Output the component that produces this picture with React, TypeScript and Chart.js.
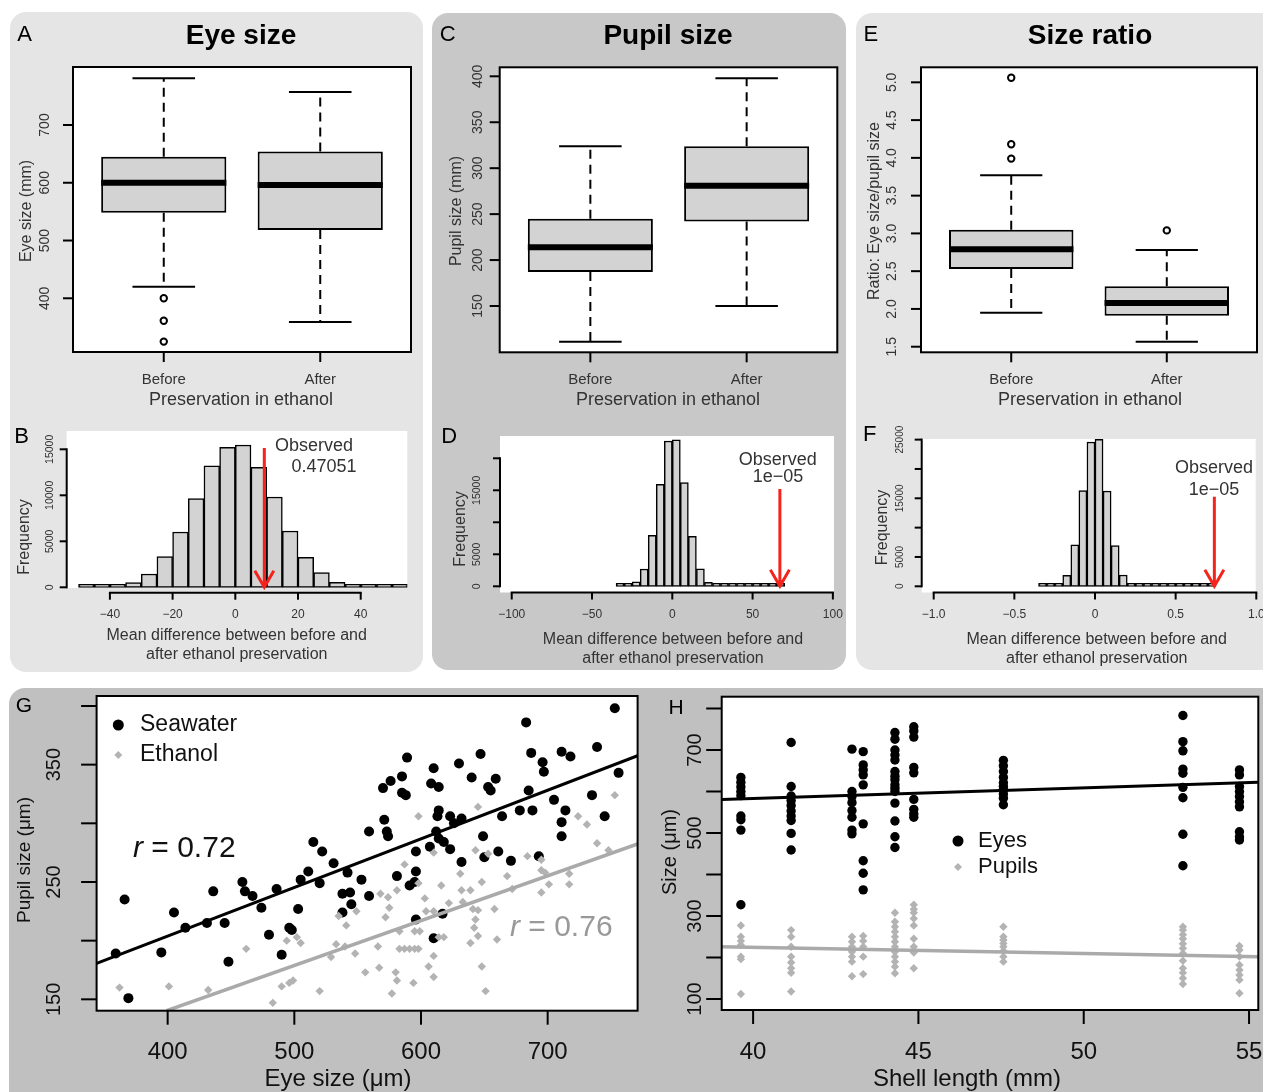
import React, { useEffect, useRef } from 'react';
import { Chart, registerables } from 'chart.js';

Chart.register(...registerables);

const PAGE_W = 1263;
const PAGE_H = 1092;
const FONT = '"Liberation Sans", Arial, Helvetica, sans-serif';
const LABEL = '#333333';
const INK = '#111111';
const BOX_FILL = '#d3d3d3';
const GREY_PT = '#b3b3b3';
const GREY_LINE = '#aaaaaa';
const GREY_TEXT = '#999999';
const ARROW_RED = '#f4231b';

// ---------------- data: boxplots ----------------
const boxGroups = ['Before', 'After'];

const eyeLow = [420, 359];
const eyeQ1 = [548, 518];
const eyeMedian = [600, 596];
const eyeQ3 = [645, 654];
const eyeHigh = [781, 757];
const eyeOutliers = [[400, 361, 325], []];
const eyeTicks = [400, 500, 600, 700];

const pupilLow = [111, 150];
const pupilQ1 = [187, 242];
const pupilMedian = [214, 281];
const pupilQ3 = [245, 324];
const pupilHigh = [324, 398];
const pupilOutliers: number[][] = [[], []];
const pupilTicks = [150, 200, 250, 300, 350, 400];

const ratioLow = [1.95, 1.565];
const ratioQ1 = [2.53, 1.91];
const ratioMedian = [2.79, 2.08];
const ratioQ3 = [3.05, 2.3];
const ratioHigh = [3.77, 2.78];
const ratioOutliers = [[5.06, 4.18, 3.99], [3.04]];
const ratioTicks = [1.5, 2.0, 2.5, 3.0, 3.5, 4.0, 4.5, 5.0];

// ---------------- data: permutation histograms ----------------
const eyeDiffBins = [-47.5, -42.5, -37.5, -32.5, -27.5, -22.5, -17.5, -12.5, -7.5, -2.5, 2.5, 7.5, 12.5, 17.5, 22.5, 27.5, 32.5, 37.5, 42.5, 47.5, 52.5];
const eyeDiffCounts = [70, 150, 250, 500, 1450, 3330, 6010, 9640, 13190, 15220, 15470, 13040, 9820, 6120, 3260, 1590, 540, 220, 110, 60, 30];
const eyeDiffTicksX = [-40, -20, 0, 20, 40];
const eyeDiffLabelsX = ['\u221240', '\u221220', '0', '20', '40'];
const eyeDiffTicksY = [0, 5000, 10000, 15000];
const eyeDiffLabelsY = ['0', '5000', '10000', '15000'];
const eyeObserved = 9.25;
const eyeArrowTop = 15150;

const pupilDiffBins = [-32.5, -27.5, -22.5, -17.5, -12.5, -7.5, -2.5, 2.5, 7.5, 12.5, 17.5, 22.5, 27.5, 32.5, 37.5, 42.5, 47.5, 52.5, 57.5, 62.5, 67.5];
const pupilDiffCounts = [50, 150, 680, 2700, 7970, 15940, 22700, 22870, 16200, 7810, 2710, 625, 160, 50, 25, 20, 15, 12, 10, 8, 5];
const pupilDiffTicksX = [-100, -50, 0, 50, 100];
const pupilDiffLabelsX = ['\u2212100', '\u221250', '0', '50', '100'];
const pupilDiffTicksY = [0, 5000, 10000, 15000, 20000];
const pupilDiffLabelsY = ['0', '5000', null, '15000', null];
const pupilObserved = 67;
const pupilArrowTop = 15200;

const ratioDiffBins = [-0.325, -0.275, -0.225, -0.175, -0.125, -0.075, -0.025, 0.025, 0.075, 0.125, 0.175, 0.225, 0.275, 0.325, 0.375, 0.425, 0.475, 0.525, 0.575, 0.625, 0.675, 0.725];
const ratioDiffCounts = [80, 100, 400, 1870, 7050, 16310, 24600, 25060, 16250, 6930, 1930, 450, 110, 40, 30, 25, 20, 15, 12, 10, 8, 5];
const ratioDiffTicksX = [-1, -0.5, 0, 0.5, 1];
const ratioDiffLabelsX = ['\u22121.0', '\u22120.5', '0', '0.5', '1.0'];
const ratioDiffTicksY = [0, 5000, 10000, 15000, 20000, 25000];
const ratioDiffLabelsY = ['0', '5000', null, '15000', null, '25000'];
const ratioObserved = 0.74;
const ratioArrowTop = 15270;

// ---------------- data: G (eye vs pupil) ----------------
const seawaterEye = [359, 366, 369, 395, 405, 414, 431, 436, 445, 448, 459, 461, 467, 474, 480, 486, 490, 496, 498, 503, 505, 511, 515, 522, 520, 531, 538, 544, 545, 542, 538, 553, 559, 559, 571, 570, 576, 573, 574, 581, 585, 585, 588, 589, 596, 596, 591, 595, 596, 607, 610, 608, 614, 614, 613, 612, 614, 618, 623, 623, 626, 632, 632, 617, 610, 630, 640, 647, 649, 650, 653, 655, 659, 661, 664, 671, 678, 683, 685, 687, 688, 693, 696, 697, 705, 711, 718, 714, 711, 711, 735, 739, 745, 753, 756];
const seawaterPupil = [189, 235, 151, 190, 224, 211, 215, 242, 215, 182, 250, 242, 238, 228, 205, 244, 188, 211, 209, 227, 252, 259, 284, 276, 249, 266, 240, 241, 231, 258, 224, 252, 293, 238, 303, 330, 336, 293, 289, 255, 340, 326, 324, 356, 276, 259, 247, 250, 218, 280, 347, 334, 331, 311, 306, 293, 287, 284, 278, 306, 300, 304, 267, 223, 202, 351, 339, 359, 289, 271, 331, 328, 338, 276, 306, 268, 311, 386, 328, 360, 311, 272, 352, 344, 320, 361, 357, 311, 301, 289, 324, 365, 306, 398, 343];
const ethanolEye = [362, 401, 432, 462, 483, 490, 496, 499, 494, 502, 505, 520, 529, 533, 535, 541, 540, 548, 549, 556, 566, 567, 568, 574, 575, 572, 581, 580, 581, 577, 583, 587, 583, 587, 591, 595, 598, 594, 598, 598, 595, 599, 603, 604, 606, 610, 610, 610, 610, 616, 618, 614, 622, 631, 632, 633, 639, 641, 645, 643, 642, 645, 639, 645, 643, 648, 648, 651, 653, 658, 660, 668, 672, 684, 695, 695, 698, 701, 695, 717, 717, 724, 731, 739, 748, 753];
const ethanolPupil = [160, 161, 158, 193, 147, 161, 164, 166, 200, 203, 198, 157, 186, 197, 221, 213, 195, 189, 225, 173, 195, 177, 240, 237, 228, 220, 243, 173, 166, 155, 208, 265, 193, 193, 193, 193, 193, 164, 306, 249, 208, 208, 236, 225, 178, 187, 169, 275, 225, 247, 203, 203, 232, 257, 243, 233, 243, 227, 226, 218, 211, 204, 198, 314, 277, 250, 178, 157, 274, 227, 201, 255, 244, 272, 269, 260, 258, 248, 241, 257, 248, 306, 299, 283, 277, 324];
const seawaterFitX = [343.9, 771];
const seawaterFitY = [180.7, 357.6];
const ethanolFitX = [399.2, 771];
const ethanolFitY = [140.3, 282.4];
const gTicksX = [400, 500, 600, 700];
const gTicksY = [150, 200, 250, 300, 350, 400];
const gLabelsY = ['150', null, '250', null, '350', null];

// ---------------- data: H (size vs shell length) ----------------
const shellLengths = [39.63, 41.15, 42.99, 43.33, 44.29, 44.86, 47.57, 53.0, 54.71];
const eyeSizesByShell = [
  [634, 622, 611, 600, 590, 541, 532, 507, 327],
  [718, 612, 589, 578, 566, 553, 541, 530, 499, 459],
  [702, 600, 588, 573, 554, 538, 507, 498],
  [696, 664, 652, 640, 616, 522, 433, 403, 363],
  [742, 726, 700, 688, 676, 648, 637, 628, 616, 608, 600, 572, 529, 491, 465],
  [756, 746, 731, 658, 645, 581, 557, 546, 538],
  [675, 662, 648, 634, 621, 612, 604, 594, 584, 568],
  [783, 720, 698, 654, 644, 610, 585, 497, 421],
  [652, 640, 612, 600, 588, 575, 563, 503, 491, 483],
];
const pupilSizesByShell = [
  [277, 250, 240, 230, 202, 196, 112],
  [266, 250, 226, 202, 188, 174, 163, 118],
  [250, 238, 226, 214, 202, 190, 155],
  [252, 240, 226, 202, 160],
  [308, 286, 274, 262, 250, 238, 226, 214, 202, 190, 178, 162],
  [327, 316, 308, 294, 277, 245, 226, 212, 174],
  [274, 250, 242, 234, 226, 216, 202, 190],
  [274, 266, 255, 245, 233, 222, 210, 192, 174, 163, 150, 136],
  [228, 218, 202, 182, 170, 158, 146, 114],
];
const eyesFitX = [39.05, 55.28];
const eyesFitY = [581, 622];
const pupilsFitX = [39.05, 55.28];
const pupilsFitY = [226, 202];
const hTicksX = [40, 45, 50, 55];
const hTicksY = [100, 200, 300, 400, 500, 600, 700, 800];
const hLabelsY = ['100', null, '300', null, '500', null, '700', null];

// ---------------- layout (page pixels) ----------------
const panels = [
  { x: 10, y: 12, w: 413, h: 660, c: '#e5e5e5' },
  { x: 432, y: 13, w: 414, h: 657, c: '#c8c8c8' },
  { x: 856, y: 13, w: 440, h: 657, c: '#e5e5e5' },
  { x: 9, y: 688, w: 1300, h: 440, c: '#c0c0c0' },
];

// ---------------- drawing helpers ----------------
function fontStr(size: number, bold?: boolean, italic?: boolean) {
  return `${italic ? 'italic ' : ''}${bold ? 'bold ' : ''}${size}px ${FONT}`;
}

function drawText(ctx: CanvasRenderingContext2D, t: any) {
  ctx.save();
  ctx.fillStyle = t.color || '#000';
  ctx.textBaseline = 'middle';
  ctx.translate(t.x, t.y);
  if (t.rotate) ctx.rotate(-Math.PI / 2);
  if (t.parts) {
    let x = 0;
    ctx.textAlign = 'left';
    for (const p of t.parts) {
      ctx.font = fontStr(t.size, t.bold, p.italic);
      ctx.fillText(p.text, x, 0);
      x += ctx.measureText(p.text).width;
    }
  } else {
    ctx.font = fontStr(t.size, t.bold, t.italic);
    ctx.textAlign = t.align || 'center';
    ctx.fillText(t.text, 0, 0);
  }
  ctx.restore();
}

function drawAxis(chart: any, a: any) {
  const ctx: CanvasRenderingContext2D = chart.ctx;
  const ca = chart.chartArea;
  ctx.save();
  ctx.strokeStyle = '#000';
  ctx.lineWidth = a.lineWidth || 2;
  ctx.fillStyle = a.color || LABEL;
  ctx.font = fontStr(a.size);
  ctx.textAlign = 'center';
  ctx.textBaseline = 'middle';
  if (a.axis === 'x') {
    const sc = chart.scales.x;
    const y0 = ca.bottom;
    if (a.line) {
      ctx.beginPath();
      ctx.moveTo(sc.getPixelForValue(a.line[0]) - 1, y0);
      ctx.lineTo(sc.getPixelForValue(a.line[1]) + 1, y0);
      ctx.stroke();
    }
    a.at.forEach((v: number, i: number) => {
      const px = sc.getPixelForValue(v);
      ctx.beginPath();
      ctx.moveTo(px, y0);
      ctx.lineTo(px, y0 + a.tickLen);
      ctx.stroke();
      const lab = a.labels[i];
      if (lab != null) ctx.fillText(lab, px, a.labelPos);
    });
  } else {
    const sc = chart.scales.y;
    const x0 = ca.left;
    if (a.line) {
      ctx.beginPath();
      ctx.moveTo(x0, sc.getPixelForValue(a.line[0]) + 1);
      ctx.lineTo(x0, sc.getPixelForValue(a.line[1]) - 1);
      ctx.stroke();
    }
    a.at.forEach((v: number, i: number) => {
      const py = sc.getPixelForValue(v);
      ctx.beginPath();
      ctx.moveTo(x0, py);
      ctx.lineTo(x0 - a.tickLen, py);
      ctx.stroke();
      const lab = a.labels[i];
      if (lab != null) {
        ctx.save();
        ctx.translate(a.labelPos, py);
        ctx.rotate(-Math.PI / 2);
        ctx.fillText(lab, 0, 0);
        ctx.restore();
      }
    });
  }
  ctx.restore();
}

function makePlugin(spec: any) {
  return {
    id: 'rfig',
    beforeDatasetsDraw(chart: any) {
      if (!spec.plotBg) return;
      const ca = chart.chartArea;
      const ctx = chart.ctx;
      ctx.save();
      ctx.fillStyle = '#ffffff';
      ctx.fillRect(ca.left, ca.top, ca.right - ca.left, ca.bottom - ca.top - (spec.bottomPad || 0));
      ctx.restore();
    },
    afterDatasetsDraw(chart: any) {
      const ctx: CanvasRenderingContext2D = chart.ctx;
      const ca = chart.chartArea;
      if (spec.box) {
        ctx.save();
        ctx.strokeStyle = '#000';
        ctx.lineWidth = 2;
        ctx.strokeRect(ca.left, ca.top, ca.right - ca.left, ca.bottom - ca.top);
        ctx.restore();
      }
      (spec.axes || []).forEach((a: any) => drawAxis(chart, a));
      if (spec.arrow) {
        const ar = spec.arrow;
        const px = chart.scales.x.getPixelForValue(ar.x);
        const py0 = chart.scales.y.getPixelForValue(ar.y0);
        const py1 = chart.scales.y.getPixelForValue(ar.y1);
        const len = 19;
        const ang = Math.PI / 6;
        ctx.save();
        ctx.strokeStyle = ARROW_RED;
        ctx.lineWidth = 3;
        ctx.beginPath();
        ctx.moveTo(px, py0);
        ctx.lineTo(px, py1);
        ctx.moveTo(px - len * Math.sin(ang), py1 - len * Math.cos(ang));
        ctx.lineTo(px, py1);
        ctx.lineTo(px + len * Math.sin(ang), py1 - len * Math.cos(ang));
        ctx.stroke();
        ctx.restore();
      }
      if (spec.legend) {
        const lg = spec.legend;
        ctx.save();
        lg.items.forEach((it: any) => {
          ctx.fillStyle = it.color;
          ctx.beginPath();
          if (it.kind === 'circle') {
            ctx.arc(lg.symbolX, it.y, it.r, 0, Math.PI * 2);
          } else {
            ctx.moveTo(lg.symbolX, it.y - it.r);
            ctx.lineTo(lg.symbolX + it.r, it.y);
            ctx.lineTo(lg.symbolX, it.y + it.r);
            ctx.lineTo(lg.symbolX - it.r, it.y);
            ctx.closePath();
          }
          ctx.fill();
          drawText(ctx, { text: it.label, x: lg.textX, y: it.y, size: lg.size, align: 'left', color: INK });
        });
        ctx.restore();
      }
      (spec.texts || []).forEach((t: any) => drawText(ctx, t));
    },
  };
}

function baseOptions(area: number[], xr: number[], yr: number[], xStep?: number) {
  return {
    responsive: false,
    animation: false,
    events: [],
    devicePixelRatio: 1,
    layout: { padding: { left: area[0], top: area[1], right: PAGE_W - area[2], bottom: PAGE_H - area[3] } },
    plugins: { legend: { display: false }, tooltip: { enabled: false }, title: { display: false } },
    scales: {
      x: { type: 'linear', min: xr[0], max: xr[1], display: false, offset: false, ticks: xStep ? { stepSize: xStep, includeBounds: false } : {} },
      y: { type: 'linear', min: yr[0], max: yr[1], display: false },
    },
  };
}

function seg(x1: number, y1: number, x2: number, y2: number, color: string, width: number, dash?: number[]) {
  return {
    type: 'line',
    data: [{ x: x1, y: y1 }, { x: x2, y: y2 }],
    borderColor: color,
    borderWidth: width,
    borderDash: dash || [],
    borderCapStyle: 'butt',
    pointRadius: 0,
    fill: false,
    tension: 0,
  };
}

// ---------------- chart builders ----------------
function boxplotConfig(b: any, area: number[], yr: number[], spec: any) {
  const HALF_BOX = 0.4;
  const HALF_CAP = 0.2;
  const ds: any[] = [];
  boxGroups.forEach((_, i) => ds.push(seg(i + 1 - HALF_BOX, b.med[i], i + 1 + HALF_BOX, b.med[i], '#000', 6)));
  ds.push({
    type: 'line',
    showLine: false,
    data: b.out.flatMap((arr: number[], i: number) => arr.map((v) => ({ x: i + 1, y: v }))),
    pointStyle: 'circle',
    pointRadius: 3.2,
    pointBackgroundColor: '#ffffff',
    pointBorderColor: '#000',
    pointBorderWidth: 2,
  });
  boxGroups.forEach((_, i) => {
    ds.push(seg(i + 1 - HALF_CAP, b.high[i], i + 1 + HALF_CAP, b.high[i], '#000', 2));
    ds.push(seg(i + 1 - HALF_CAP, b.low[i], i + 1 + HALF_CAP, b.low[i], '#000', 2));
    ds.push(seg(i + 1, b.q3[i], i + 1, b.high[i], '#000', 2, [9, 6]));
    ds.push(seg(i + 1, b.q1[i], i + 1, b.low[i], '#000', 2, [9, 6]));
  });
  ds.push({
    type: 'bar',
    data: boxGroups.map((_, i) => ({ x: i + 1, y: [b.q1[i], b.q3[i]] })),
    backgroundColor: BOX_FILL,
    borderColor: '#000',
    borderWidth: 2,
    borderSkipped: false,
    categoryPercentage: 1,
    barPercentage: 0.8,
  });
  return { type: 'bar', data: { datasets: ds }, options: baseOptions(area, [0.42, 2.58], yr, 1), plugins: [makePlugin(spec)] };
}

function histConfig(bins: number[], counts: number[], area: number[], xr: number[], yr: number[], xStep: number, spec: any) {
  return {
    type: 'bar',
    data: {
      datasets: [
        {
          type: 'bar',
          data: bins.map((b, i) => ({ x: b, y: counts[i] })),
          backgroundColor: BOX_FILL,
          borderColor: '#000',
          borderWidth: 1.5,
          borderSkipped: false,
          categoryPercentage: 1,
          barPercentage: 1,
          minBarLength: 3,
        },
      ],
    },
    options: baseOptions(area, xr, yr, xStep),
    plugins: [makePlugin(spec)],
  };
}

function boxSpec(letter: any, title: any, yTicks: number[], yLabels: string[], yLabelX: number, yTitle: any) {
  return {
    plotBg: true,
    box: true,
    axes: [
      { axis: 'x', at: [1, 2], labels: boxGroups, tickLen: 10, labelPos: 380, size: 15, color: LABEL },
      { axis: 'y', at: yTicks, labels: yLabels, tickLen: 10, labelPos: yLabelX, size: 14, color: LABEL },
    ],
    texts: [
      { text: letter.t, x: letter.x, y: 35, size: 22 },
      { text: title.t, x: title.x, y: 36, size: 28, bold: true },
      { text: 'Preservation in ethanol', x: title.x, y: 400, size: 18, color: LABEL },
      { text: yTitle.t, x: yTitle.x, y: 211, size: 16, rotate: true, color: LABEL },
    ],
  };
}

function histSpec(o: any) {
  return {
    plotBg: true,
    bottomPad: o.bottomPad || 0,
    axes: [
      { axis: 'x', at: o.tx, labels: o.lx, tickLen: 7, labelPos: 615, size: 12, color: LABEL, line: [o.tx[0], o.tx[o.tx.length - 1]] },
      { axis: 'y', at: o.ty, labels: o.ly, tickLen: 7, labelPos: o.yLabelX, size: o.ySize, color: LABEL, line: [o.ty[0], o.ty[o.ty.length - 1]] },
    ],
    arrow: { x: o.obs, y0: o.arrowTop, y1: 0 },
    texts: [
      { text: o.letter, x: o.letterX, y: o.letterY, size: 22 },
      { text: 'Observed', x: o.obsX[0], y: o.obsY[0], size: 18, color: LABEL },
      { text: o.obsLabel, x: o.obsX[1], y: o.obsY[1], size: 18, color: LABEL },
      { text: 'Mean difference between before and', x: o.titleX, y: o.titleY, size: 16, color: LABEL },
      { text: 'after ethanol preservation', x: o.titleX, y: o.titleY + 19, size: 16, color: LABEL },
      { text: 'Frequency', x: o.freqX, y: o.freqY, size: 16, rotate: true, color: LABEL },
    ],
  };
}

const cfgA = () =>
  boxplotConfig(
    { low: eyeLow, q1: eyeQ1, med: eyeMedian, q3: eyeQ3, high: eyeHigh, out: eyeOutliers },
    [73, 67, 411, 352],
    [307, 800.4],
    boxSpec({ t: 'A', x: 24.5 }, { t: 'Eye size', x: 241 }, eyeTicks, eyeTicks.map(String), 45, { t: 'Eye size (mm)', x: 27 })
  );

const cfgC = () =>
  boxplotConfig(
    { low: pupilLow, q1: pupilQ1, med: pupilMedian, q3: pupilQ3, high: pupilHigh, out: pupilOutliers },
    [499.7, 67.3, 837.3, 352.3],
    [99.6, 409.8],
    boxSpec({ t: 'C', x: 447.7 }, { t: 'Pupil size', x: 668 }, pupilTicks, pupilTicks.map(String), 478, { t: 'Pupil size (mm)', x: 457 })
  );

const cfgE = () =>
  boxplotConfig(
    { low: ratioLow, q1: ratioQ1, med: ratioMedian, q3: ratioQ3, high: ratioHigh, out: ratioOutliers },
    [921, 67.3, 1258.7, 352.3],
    [1.426, 5.199],
    boxSpec({ t: 'E', x: 870.8 }, { t: 'Size ratio', x: 1090 }, ratioTicks, ratioTicks.map((v) => v.toFixed(1)), 892, { t: 'Ratio: Eye size/pupil size', x: 875 })
  );

const cfgB = () =>
  histConfig(eyeDiffBins, eyeDiffCounts, [66.7, 431, 407.3, 592.7], [-53.78, 54.86], [-587, 16989], 20,
    histSpec({
      tx: eyeDiffTicksX, lx: eyeDiffLabelsX, ty: eyeDiffTicksY, ly: eyeDiffLabelsY, yLabelX: 50, ySize: 10.5,
      obs: eyeObserved, arrowTop: eyeArrowTop, letter: 'B', letterX: 21.7, letterY: 436.7,
      obsX: [314, 324], obsY: [446, 467.5], obsLabel: '0.47051', titleX: 236.7, titleY: 636,
      freqX: 25, freqY: 537, bottomPad: 4.7,
    }));

const cfgD = () =>
  histConfig(pupilDiffBins, pupilDiffCounts, [500, 436, 834, 592.5], [-107.3, 100.7], [-969, 23484], 50,
    histSpec({
      tx: pupilDiffTicksX, lx: pupilDiffLabelsX, ty: pupilDiffTicksY, ly: pupilDiffLabelsY, yLabelX: 477.5, ySize: 10.5,
      obs: pupilObserved, arrowTop: pupilArrowTop, letter: 'D', letterX: 449.3, letterY: 436.7,
      obsX: [777.7, 778], obsY: [460.5, 477], obsLabel: '1e\u221205', titleX: 673, titleY: 640,
      freqX: 460.8, freqY: 529,
    }));

const cfgF = () =>
  histConfig(ratioDiffBins, ratioDiffCounts, [921.7, 439, 1255.7, 592.5], [-1.0744, 0.9963], [-1057, 25107], 0.5,
    histSpec({
      tx: ratioDiffTicksX, lx: ratioDiffLabelsX, ty: ratioDiffTicksY, ly: ratioDiffLabelsY, yLabelX: 900, ySize: 10,
      obs: ratioObserved, arrowTop: ratioArrowTop, letter: 'F', letterX: 869.7, letterY: 435,
      obsX: [1214, 1214], obsY: [468, 489.7], obsLabel: '1e\u221205', titleX: 1096.7, titleY: 640,
      freqX: 882.5, freqY: 527.5,
    }));

const cfgG = () => ({
  type: 'scatter',
  data: {
    datasets: [
      { type: 'line', data: seawaterFitX.map((x, i) => ({ x, y: seawaterFitY[i] })), borderColor: '#000', borderWidth: 3, pointRadius: 0, fill: false },
      { type: 'line', data: ethanolFitX.map((x, i) => ({ x, y: ethanolFitY[i] })), borderColor: GREY_LINE, borderWidth: 3.5, pointRadius: 0, fill: false },
      {
        type: 'scatter',
        data: ethanolEye.map((x, i) => ({ x, y: ethanolPupil[i] })),
        pointStyle: 'rectRot', pointRadius: 4.2, pointBackgroundColor: GREY_PT, backgroundColor: GREY_PT, pointBorderWidth: 0, borderWidth: 0,
      },
      {
        type: 'scatter',
        data: seawaterEye.map((x, i) => ({ x, y: seawaterPupil[i] })),
        pointStyle: 'circle', pointRadius: 5, pointBackgroundColor: '#000', backgroundColor: '#000', pointBorderWidth: 0, borderWidth: 0,
      },
    ],
  },
  options: baseOptions([96.6, 696, 637.6, 1010.7], [343.9, 771], [140.3, 408.5]),
  plugins: [
    makePlugin({
      plotBg: true,
      box: true,
      axes: [
        { axis: 'x', at: gTicksX, labels: gTicksX.map(String), tickLen: 14, labelPos: 1052, size: 24, color: INK },
        { axis: 'y', at: gTicksY, labels: gLabelsY, tickLen: 15.5, labelPos: 54, size: 20, color: INK },
      ],
      legend: {
        symbolX: 118.3, textX: 140, size: 23,
        items: [
          { label: 'Seawater', kind: 'circle', color: '#000', r: 5.5, y: 725 },
          { label: 'Ethanol', kind: 'diamond', color: GREY_PT, r: 4, y: 755 },
        ],
      },
      texts: [
        { text: 'G', x: 24, y: 706, size: 21 },
        { text: 'Eye size (\u03bcm)', x: 338, y: 1079, size: 24, color: INK },
        { text: 'Pupil size (\u03bcm)', x: 25, y: 860, size: 19, rotate: true, color: INK },
        { parts: [{ text: 'r', italic: true }, { text: ' = 0.72' }], x: 133, y: 849, size: 30, color: INK },
        { parts: [{ text: 'r', italic: true }, { text: ' = 0.76' }], x: 510, y: 928, size: 30, color: GREY_TEXT },
      ],
    }),
  ],
});

const cfgH = () => ({
  type: 'scatter',
  data: {
    datasets: [
      { type: 'line', data: eyesFitX.map((x, i) => ({ x, y: eyesFitY[i] })), borderColor: '#000', borderWidth: 3, pointRadius: 0, fill: false },
      { type: 'line', data: pupilsFitX.map((x, i) => ({ x, y: pupilsFitY[i] })), borderColor: GREY_LINE, borderWidth: 3.5, pointRadius: 0, fill: false },
      {
        type: 'scatter',
        data: shellLengths.flatMap((s, i) => pupilSizesByShell[i].map((v) => ({ x: s, y: v }))),
        pointStyle: 'rectRot', pointRadius: 4.2, pointBackgroundColor: GREY_PT, backgroundColor: GREY_PT, pointBorderWidth: 0, borderWidth: 0,
      },
      {
        type: 'scatter',
        data: shellLengths.flatMap((s, i) => eyeSizesByShell[i].map((v) => ({ x: s, y: v }))),
        pointStyle: 'circle', pointRadius: 4.7, pointBackgroundColor: '#000', backgroundColor: '#000', pointBorderWidth: 0, borderWidth: 0,
      },
    ],
  },
  options: baseOptions([721.7, 696.7, 1261.7, 1010], [39.05, 55.28], [73.5, 828.4]),
  plugins: [
    makePlugin({
      plotBg: true,
      box: true,
      axes: [
        { axis: 'x', at: hTicksX, labels: hTicksX.map(String), tickLen: 14, labelPos: 1052, size: 24, color: INK },
        { axis: 'y', at: hTicksY, labels: hLabelsY, tickLen: 15.5, labelPos: 695, size: 20, color: INK },
      ],
      legend: {
        symbolX: 958, textX: 978, size: 22,
        items: [
          { label: 'Eyes', kind: 'circle', color: '#000', r: 5.5, y: 841 },
          { label: 'Pupils', kind: 'diamond', color: GREY_PT, r: 4, y: 867 },
        ],
      },
      texts: [
        { text: 'H', x: 676, y: 708, size: 21 },
        { text: 'Shell length (mm)', x: 967, y: 1079, size: 24, color: INK },
        { text: 'Size (\u03bcm)', x: 670, y: 852, size: 20, rotate: true, color: INK },
      ],
    }),
  ],
});

const chartConfigs = [cfgA, cfgB, cfgC, cfgD, cfgE, cfgF, cfgG, cfgH];

export default function App() {
  const refs = useRef<(HTMLCanvasElement | null)[]>([]);

  useEffect(() => {
    const charts: Chart[] = [];
    chartConfigs.forEach((make, i) => {
      const cv = refs.current[i];
      if (cv) charts.push(new Chart(cv, make() as any));
    });
    return () => charts.forEach((c) => c.destroy());
  }, []);

  return (
    <div style={{ position: 'absolute', left: 0, top: 0, width: PAGE_W, height: PAGE_H, overflow: 'hidden', background: '#ffffff' }}>
      {panels.map((p, i) => (
        <div
          key={'p' + i}
          style={{ position: 'absolute', left: p.x, top: p.y, width: p.w, height: p.h, background: p.c, borderRadius: 16 }}
        />
      ))}
      {chartConfigs.map((_, i) => (
        <canvas
          key={'c' + i}
          ref={(el) => {
            refs.current[i] = el;
          }}
          width={PAGE_W}
          height={PAGE_H}
          style={{ position: 'absolute', left: 0, top: 0, width: PAGE_W, height: PAGE_H, display: 'block' }}
        />
      ))}
    </div>
  );
}
